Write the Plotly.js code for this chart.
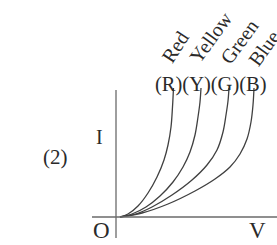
<!DOCTYPE html>
<html>
<head>
<meta charset="utf-8">
<script src="https://cdn.plot.ly/plotly-3.0.1.min.js"></script>
<style>html,body{margin:0;padding:0;background:#fff;}#chart{width:277px;height:245px;}</style>
</head>
<body>
<div id="chart"></div>
<script>
// Series: voltage V (x) and current I (y), arbitrary units
var redV    = [0, 8, 18, 28, 37, 44, 48, 51, 52.5, 53.5];
var redI    = [0, 3, 11, 24, 40, 57, 72, 90, 110, 129];
var yellowV = [0, 12, 26, 40, 53, 63, 70, 75, 78, 80, 81];
var yellowI = [0, 3, 10, 21, 35, 50, 65, 82, 100, 115, 129];
var greenV  = [0, 16, 32, 52, 72, 87, 97, 103, 106, 108, 109];
var greenI  = [0, 3, 10, 22, 37, 52, 67, 85, 102, 116, 129];
var blueV   = [0, 22, 48, 75, 95, 110, 120, 127, 131, 133, 134];
var blueI   = [0, 4, 13, 26, 38, 50, 63, 78, 95, 112, 129];
var colorNames = ["Red", "Yellow", "Green", "Blue"];
var colorCodes = ["(R)(Y)(G)(B)"];

var serif = "Liberation Serif, DejaVu Serif, serif";
var ink = "#404040";

function curve(x, y) {
  return {x: x, y: y, type: "scatter", mode: "lines",
          line: {color: ink, width: 1.3, shape: "spline", smoothing: 1},
          hoverinfo: "skip", showlegend: false};
}

var data = [curve(redV, redI), curve(yellowV, yellowI), curve(greenV, greenI), curve(blueV, blueI)];

// pixel -> paper helpers
function px(p) { return p / 277; }
function py(p) { return 1 - p / 245; }

function txt(t, x, y, size, angle) {
  return {text: t, x: px(x), y: py(y), xref: "paper", yref: "paper",
          showarrow: false, xanchor: "center", yanchor: "middle",
          textangle: angle || 0, font: {family: serif, size: size, color: "#2a2a2a"}};
}

var nameCenters = [[175, 47], [211, 37], [239, 42], [264, 48]];
var nameAngles = [-57, -54, -54, -54];
var annotations = colorNames.map(function (n, i) {
  return txt(n, nameCenters[i][0], nameCenters[i][1], 20, nameAngles[i]);
});
annotations.push(txt(colorCodes[0], 211, 84, 20.5));
annotations.push(txt("I", 99, 137, 20));
annotations.push(txt("(2)", 56, 157, 21));
annotations.push(txt("O", 101, 230, 23));
annotations.push(txt("V", 257, 230, 23));

var layout = {
  width: 277, height: 245,
  margin: {l: 0, r: 0, t: 0, b: 0, pad: 0},
  paper_bgcolor: "#fff", plot_bgcolor: "#fff",
  xaxis: {range: [-120, 157], visible: false, fixedrange: true},
  yaxis: {range: [-28, 217], visible: false, fixedrange: true},
  shapes: [
    {type: "line", xref: "x", yref: "y", x0: -4, x1: -4, y0: -21, y1: 127,
     line: {color: "#6a6a6a", width: 1.3}},
    {type: "line", xref: "x", yref: "y", x0: -28, x1: 157, y0: 0, y1: 0,
     line: {color: "#6a6a6a", width: 1.3}}
  ],
  annotations: annotations
};

Plotly.newPlot("chart", data, layout, {displayModeBar: false, staticPlot: true});
</script>
</body>
</html>
